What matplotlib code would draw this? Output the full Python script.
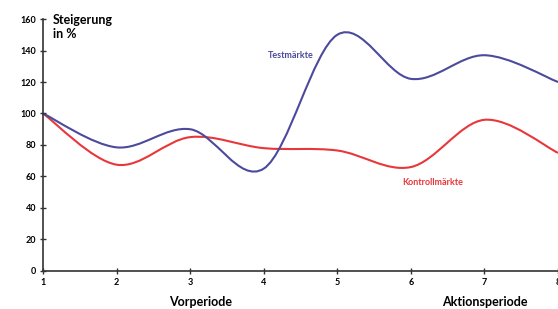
import matplotlib.pyplot as plt
from matplotlib.path import Path
from matplotlib.patches import PathPatch

plt.rcParams['font.family'] = ['Lato', 'DejaVu Sans']

# data
perioden = [1, 2, 3, 4, 5, 6, 7, 8]
testmaerkte = [100, 78.5, 90, 65, 150, 122, 137, 120]
kontrollmaerkte = [100, 67.5, 85, 78, 76.5, 66, 96, 75]
y_ticks = [0, 20, 40, 60, 80, 100, 120, 140, 160]

BLUE = '#4b4a9c'
RED = '#e8373a'


def smooth_path(xs, ys):
    # Catmull-Rom style bezier, like a smoothed Excel line
    pts = list(zip(xs, ys))
    n = len(pts)
    verts = [pts[0]]
    codes = [Path.MOVETO]
    for i in range(n - 1):
        p0 = pts[i - 1] if i > 0 else pts[i]
        p1 = pts[i]
        p2 = pts[i + 1]
        p3 = pts[i + 2] if i + 2 < n else pts[i + 1]
        c1 = (p1[0] + (p2[0] - p0[0]) / 6, p1[1] + (p2[1] - p0[1]) / 6)
        c2 = (p2[0] - (p3[0] - p1[0]) / 6, p2[1] - (p3[1] - p1[1]) / 6)
        verts += [c1, c2, p2]
        codes += [Path.CURVE4] * 3
    return Path(verts, codes)


fig = plt.figure(figsize=(5.58, 3.09), dpi=100)
ax = fig.add_axes([0.0771, 0.123, 0.923, 0.8155])

for vals, col in [(kontrollmaerkte, RED), (testmaerkte, BLUE)]:
    patch = PathPatch(smooth_path(perioden, vals), facecolor='none',
                      edgecolor=col, lw=1.5, clip_on=False)
    ax.add_patch(patch)

ax.set_xlim(1, 8)
ax.set_ylim(0, 160)
ax.set_xticks(perioden)
ax.set_yticks(y_ticks)
for s in ['top', 'right']:
    ax.spines[s].set_visible(False)
for s in ['left', 'bottom']:
    ax.spines[s].set_color('#333333')
    ax.spines[s].set_linewidth(1.2)
ax.tick_params(direction='inout', length=4, width=1, color='#333333',
               labelsize=6.5, pad=3)
for lbl in ax.get_xticklabels() + ax.get_yticklabels():
    lbl.set_fontweight('bold')

ax.text(1.13, 163, 'Steigerung\nin %', fontsize=9, fontweight='bold',
        va='top', ha='left', linespacing=1.2)
ax.text(4.37, 137, 'Testmärkte', color=BLUE, fontsize=6.5,
        fontweight='bold', ha='center', va='center')
ax.text(6.29, 56.5, 'Kontrollmärkte', color=RED, fontsize=6.5,
        fontweight='bold', ha='center', va='center')
ax.text(3.14, -20, 'Vorperiode', fontsize=9, fontweight='bold',
        ha='center', va='center')
ax.text(7.0, -20, 'Aktionsperiode', fontsize=9, fontweight='bold',
        ha='center', va='center')

fig.savefig('out.png', dpi=100)
